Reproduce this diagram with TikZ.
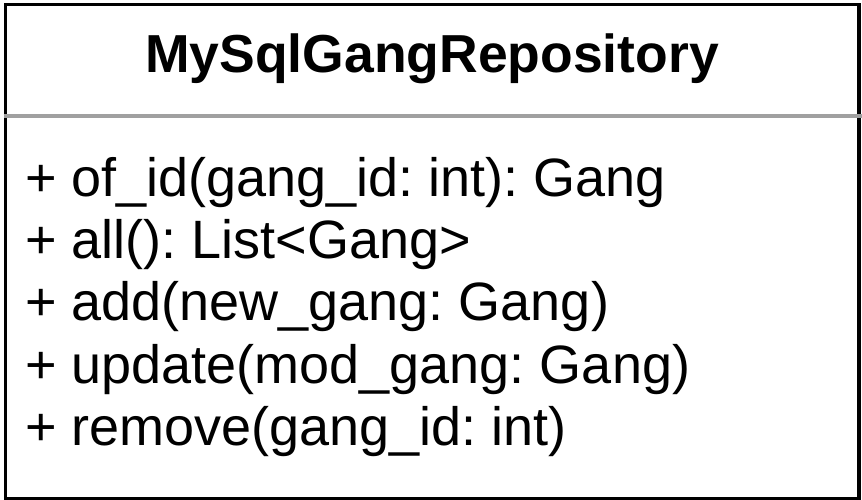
\documentclass[tikz,border=0pt]{standalone}
\usepackage{fontspec}
\setmainfont{Liberation Sans}
\definecolor{sepgray}{HTML}{A0A0A0}
\begin{document}
\frenchspacing
\begin{tikzpicture}[x=1pt,y=-1pt,
  member/.style={anchor=base west,inner sep=0pt,font=\fontsize{54}{60}\selectfont},
  titletext/.style={anchor=base,inner sep=0pt,font=\fontsize{53.5}{60}\selectfont\bfseries}]
\useasboundingbox (0,0) rectangle (862,500);
\fill[white] (0,0) rectangle (862,500);
\node[draw,line width=3.5pt,minimum width=853.5pt,minimum height=493.5pt,anchor=north west,inner sep=0pt] (box) at (3.5,3) {};
\coordinate (sepL) at (3.5,116);
\coordinate (sepR) at (862,116);
\draw[sepgray,line width=3.5pt] (sepL) -- (sepR);
\node[titletext] (title) at (432,73) {MySqlGangRepository};
\node[member] (m1) at (25,196.7) {+ of\_id(gang\_id: int): Gang};
\node[member] (m2) at (25,258.8) {+ all(): List<Gang>};
\node[member] (m3) at (25,320.9) {+ add(new\_gang: Gang)};
\node[member] (m4) at (25,383.0) {+ update(mod\_gang: Gang)};
\node[member] (m5) at (25,445.1) {+ remove(gang\_id: int)};
\end{tikzpicture}
\end{document}
